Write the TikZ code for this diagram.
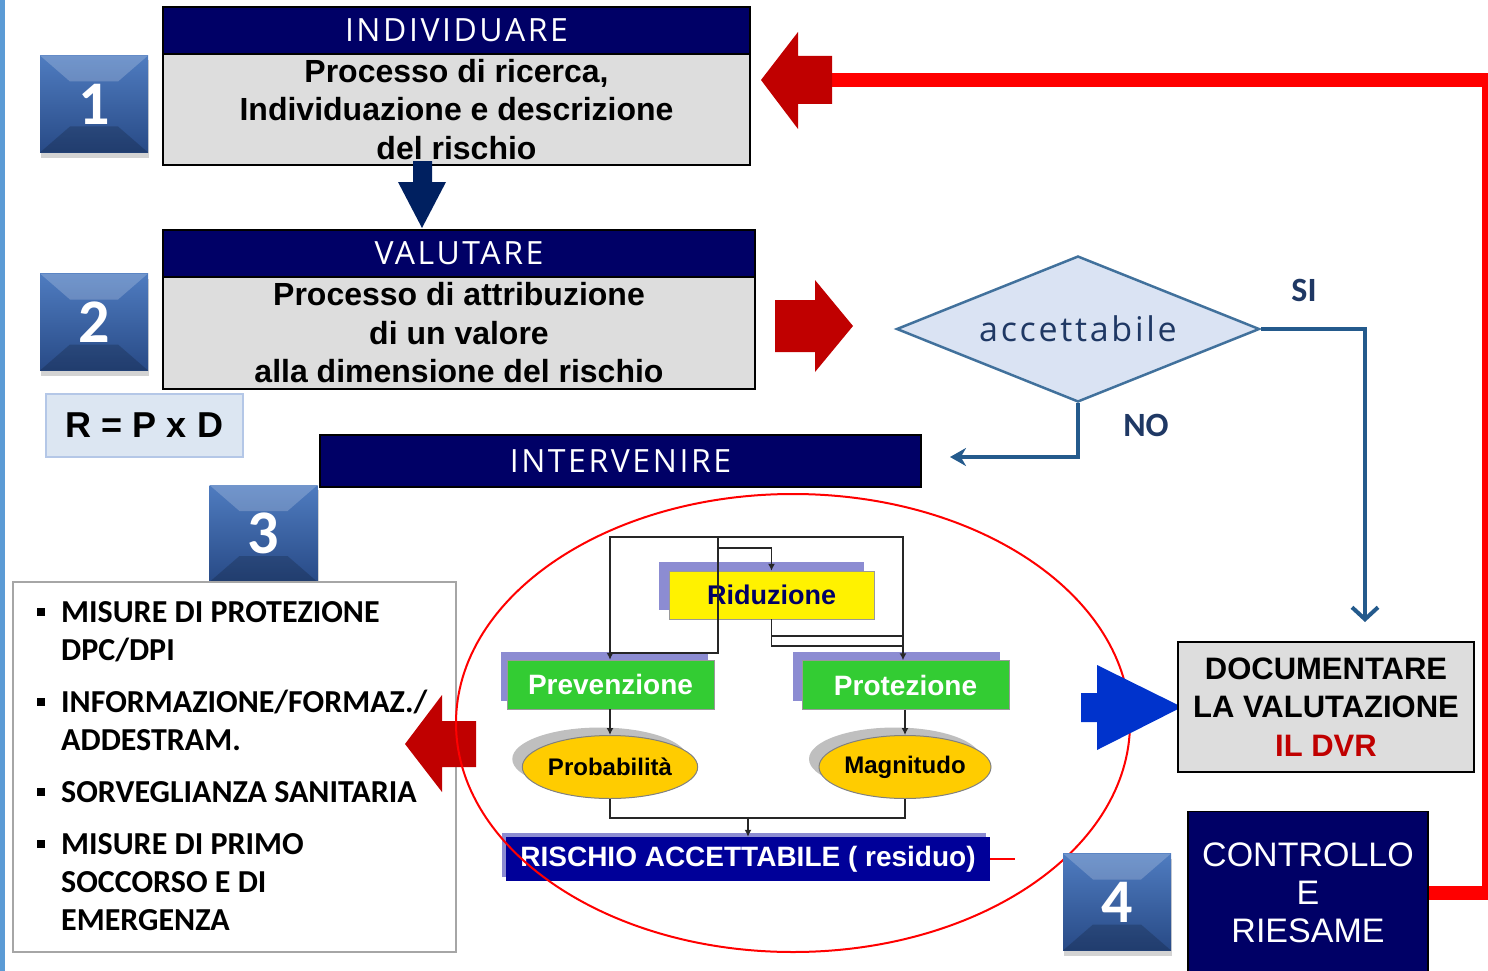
\documentclass[tikz,border=0pt]{standalone}
\usepackage{fontspec}
\setmainfont{Liberation Sans}
\newfontfamily\narrowfont{Liberation Sans}
\newfontfamily\calfont{Carlito}
\newfontfamily\headfont[LetterSpace=8]{Open Sans}
\usepackage{tikz}
\usetikzlibrary{arrows.meta,positioning,shapes.geometric,shadows,calc}

\definecolor{navy}{HTML}{000066}
\definecolor{boxgray}{HTML}{DDDDDD}
\definecolor{dred}{HTML}{C00000}
\definecolor{edgeblue}{HTML}{5B9BD5}
\definecolor{arrownavy}{HTML}{002060}
\definecolor{steel}{HTML}{41719C}
\definecolor{diafill}{HTML}{DAE3F3}
\definecolor{diatext}{HTML}{1F3864}
\definecolor{flowblue}{HTML}{245A8C}
\definecolor{formfill}{HTML}{DCE6F2}
\definecolor{formborder}{HTML}{B4C7E7}
\definecolor{sqtop}{HTML}{4F7CC0}
\definecolor{sqbot}{HTML}{284A86}
\definecolor{shadeblue}{HTML}{8C8CD2}
\definecolor{greenbox}{HTML}{33CC33}
\definecolor{gold}{HTML}{FFCC00}
\definecolor{residblue}{HTML}{000099}
\definecolor{pushblue}{HTML}{0033CC}

\newcommand{\fsz}[2]{\fontsize{#1}{#2}\selectfont}

\begin{document}
\begin{tikzpicture}[x=1pt,y=-1pt,
  hdr/.style={draw=black,line width=1.2pt,fill=navy,text=white,
    font=\headfont\fsz{32}{32},inner sep=0},
  body/.style={draw=black,line width=1.2pt,fill=boxgray,
    font=\narrowfont\bfseries\fsz{32}{38.5},align=center,inner sep=0},
  numsq/.style={minimum width=108pt,minimum height=97pt,inner sep=0,
    top color=sqtop,bottom color=sqbot,text=white,
    font=\calfont\bfseries\fsz{62}{62},
    drop shadow={shadow xshift=1pt,shadow yshift=-5pt,opacity=.35},
    path picture={
      \fill[white,opacity=.2] (path picture bounding box.north west)
        -- (path picture bounding box.north east)
        -- ([xshift=-30pt,yshift=-26pt]path picture bounding box.north east)
        -- ([xshift=30pt,yshift=-26pt]path picture bounding box.north west) -- cycle;
      \fill[black,opacity=.18] (path picture bounding box.south west)
        -- (path picture bounding box.south east)
        -- ([xshift=-30pt,yshift=26pt]path picture bounding box.south east)
        -- ([xshift=30pt,yshift=26pt]path picture bounding box.south west) -- cycle;
    }},
  lbl/.style={text=diatext,font=\calfont\bfseries\fsz{34}{34}},
  flow/.style={draw=flowblue,line width=4pt},
  inbox/.style={minimum width=207pt,minimum height=49pt,inner sep=0,
    fill=greenbox,draw=black!40,text=white,font=\bfseries\fsz{28}{28}},
  inoval/.style={ellipse,minimum width=172pt,minimum height=63pt,inner sep=0,
    fill=gold,draw=black!50,line width=1pt,font=\bfseries\fsz{24}{24},
    drop shadow={shadow xshift=-10pt,shadow yshift=8pt,fill=black!25,opacity=1}},
  lnk/.style={draw=black!85,line width=1.5pt},
  listitem/.style={anchor=base west,inner sep=0,font=\calfont\bfseries\fsz{32}{32}},
  backline/.style={draw=red,line width=14pt}]

  \useasboundingbox (0,0) rectangle (1488,971);
  \fill[edgeblue] (0,0) rectangle (5,971);

  % step 1
  \node[hdr,minimum width=587pt,minimum height=47pt] (ind) at (456.5,30.5) {INDIVIDUARE};
  \node[body,minimum width=587pt,minimum height=111pt] (ric) at (456.5,109.5)
    {Processo di ricerca,\\Individuazione e descrizione\\del rischio};
  \node[numsq] (n1) at (94,104) {1};
  \fill[arrownavy] (413,161) -- (432,161) -- (432,182) -- (446,182) -- (422,228)
    -- (398,182) -- (413,182) -- cycle;

  % step 2
  \node[hdr,minimum width=592pt,minimum height=47pt] (val) at (459,253.5) {VALUTARE};
  \node[body,minimum width=592pt,minimum height=112pt] (attr) at (459,333)
    {Processo di attribuzione\\di un valore\\alla dimensione del rischio};
  \node[numsq] (n2) at (94,322) {2};
  \node[draw=formborder,line width=1.5pt,fill=formfill,minimum width=197pt,
    minimum height=63pt,inner sep=0,font=\bfseries\fsz{36}{36}] (form) at (144.5,425.5) {R = P x D};
  \fill[dred] (775,300) -- (815,300) -- (815,280) -- (853,326) -- (815,372)
    -- (815,352) -- (775,352) -- cycle;

  % decision
  \node[diamond,aspect=2.5,draw=steel,line width=2.5pt,fill=diafill,minimum width=363pt,
    minimum height=146pt,inner sep=0,text=diatext,font=\headfont\fsz{34}{34}] (acc) at (1078,329) {accettabile};
  \node[lbl] (si) at (1304,290) {SI};
  \node[lbl] (no) at (1146,425) {NO};
  \coordinate (siend) at (1365,622);
  \coordinate (noend) at (950,457);
  \draw[flow,-{Straight Barb[length=12pt,width=26pt,line width=4pt]}]
    (acc.east) -- (acc.east -| siend) -- (siend);
  \draw[flow,-{Stealth[length=16pt,width=18pt]}] (acc.south) |- (noend);

  % step 3
  \node[hdr,minimum width=601pt,minimum height=52pt] (int) at (620.5,461) {INTERVENIRE};
  \node[numsq] (n3) at (263.5,533.5) {3};
  \node[draw=black!35,line width=2.5pt,fill=white,minimum width=443pt,
    minimum height=370pt] (mis) at (234.5,767) {};
  \foreach \y in {612,702,792,844}
    \fill (37,\y-4) rectangle (45,\y+4);
  \node[listitem] (m1) at (61,622) {MISURE DI PROTEZIONE};
  \node[listitem] (m2) at (61,660) {DPC/DPI};
  \node[listitem] (m3) at (61,712) {INFORMAZIONE/FORMAZ./};
  \node[listitem] (m4) at (61,750) {ADDESTRAM.};
  \node[listitem] (m5) at (61,802) {SORVEGLIANZA SANITARIA};
  \node[listitem] (m6) at (61,854) {MISURE DI PRIMO};
  \node[listitem] (m7) at (61,892) {SOCCORSO E DI};
  \node[listitem] (m8) at (61,930) {EMERGENZA};

  % inner scheme
  \coordinate (tl) at (610,537);
  \coordinate (tr) at (903,537);
  \coordinate (tm) at (718,537);
  \node[minimum width=205pt,minimum height=48pt,inner sep=0,fill=yellow,draw=black!40,
    text=navy,font=\bfseries\fsz{27}{27},
    drop shadow={shadow xshift=-10pt,shadow yshift=9pt,fill=shadeblue,opacity=1}]
    (rid) at (771.5,595) {Riduzione};
  \node[inbox,drop shadow={shadow xshift=-6pt,shadow yshift=8pt,fill=shadeblue,opacity=1}]
    (prev) at (610.5,684.5) {Prevenzione};
  \node[inbox,drop shadow={shadow xshift=-9pt,shadow yshift=9pt,fill=shadeblue,opacity=1}]
    (prot) at (905.5,685) {Protezione};
  \node[inoval] (prob) at (610,767) {Probabilità};
  \node[inoval] (magn) at (905,767) {Magnitudo};
  \node[minimum width=484pt,minimum height=44pt,inner sep=0,fill=residblue,text=white,
    font=\bfseries\fsz{28}{28},
    drop shadow={shadow xshift=-4pt,shadow yshift=4pt,fill=shadeblue,opacity=1}]
    (resid) at (748,859) {RISCHIO ACCETTABILE ( residuo)};
  \draw[lnk] (tm) |- (tl) -- (tl |- 0,653) -- (tm |- 0,653) -- (tm);
  \draw[lnk] (tm) -- (tr) -- (tr |- 0,636);
  \draw[lnk,-{Latex[length=7pt,width=7pt]}] (tl |- 0,640) -- (tl |- prev.north);
  \draw[lnk,-{Latex[length=7pt,width=7pt]}] (tm |- 0,548) -| (rid.north);
  \draw[lnk] (rid.south) |- (tr |- 0,646);
  \draw[lnk] (rid.south |- 0,636) -- (tr |- 0,636);
  \draw[lnk,-{Latex[length=7pt,width=7pt]}] (tr |- 0,636) -- (tr |- prot.north);
  \draw[lnk,-{Latex[length=7pt,width=7pt]}] (prev.south -| prob) -- (prob.north);
  \draw[lnk,-{Latex[length=7pt,width=7pt]}] (prot.south -| magn) -- (magn.north);
  \draw[lnk] (prob.south) -- ++(0,19) -| (magn.south);
  \draw[lnk,-{Latex[length=7pt,width=7pt]}] (resid.north) ++(0,-20) -- (resid.north);
  \draw[red,line width=2pt] (resid.east) -- ++(25,0);

  \fill[dred] (405,744) -- (442,695) -- (442,721) -- (476,721) -- (476,767)
    -- (442,767) -- (442,792) -- cycle;
  \node[ellipse,draw=red,line width=2pt,minimum width=674pt,minimum height=458pt]
    (zone) at (793,723) {};
  \fill[pushblue] (1081,693) -- (1097,693) -- (1097,665) -- (1182,707) -- (1097,750)
    -- (1097,722) -- (1081,722) -- cycle;

  % documentation, step 4
  \node[draw=black,line width=2pt,fill=boxgray,minimum width=296pt,minimum height=130pt,
    inner sep=0,align=center,font=\bfseries\fsz{31}{38.5}] (doc) at (1326,707)
    {DOCUMENTARE\\LA VALUTAZIONE\\\textcolor{dred}{IL DVR}};
  \node[numsq] (n4) at (1117,902) {4};
  \node[hdr,minimum width=240pt,minimum height=163pt,align=center,
    font=\fsz{34}{38}] (ctrl) at (1308,893) {CONTROLLO\\E\\RIESAME};

  % back to step 1
  \coordinate (back) at (832,80);
  \draw[backline] (ctrl.east) -| (1489,80) -- (back);
  \fill[dred] (761,80) -- (798,32) -- (798,56) -- (832,56) -- (832,104)
    -- (798,104) -- (798,129) -- cycle;
\end{tikzpicture}
\end{document}
